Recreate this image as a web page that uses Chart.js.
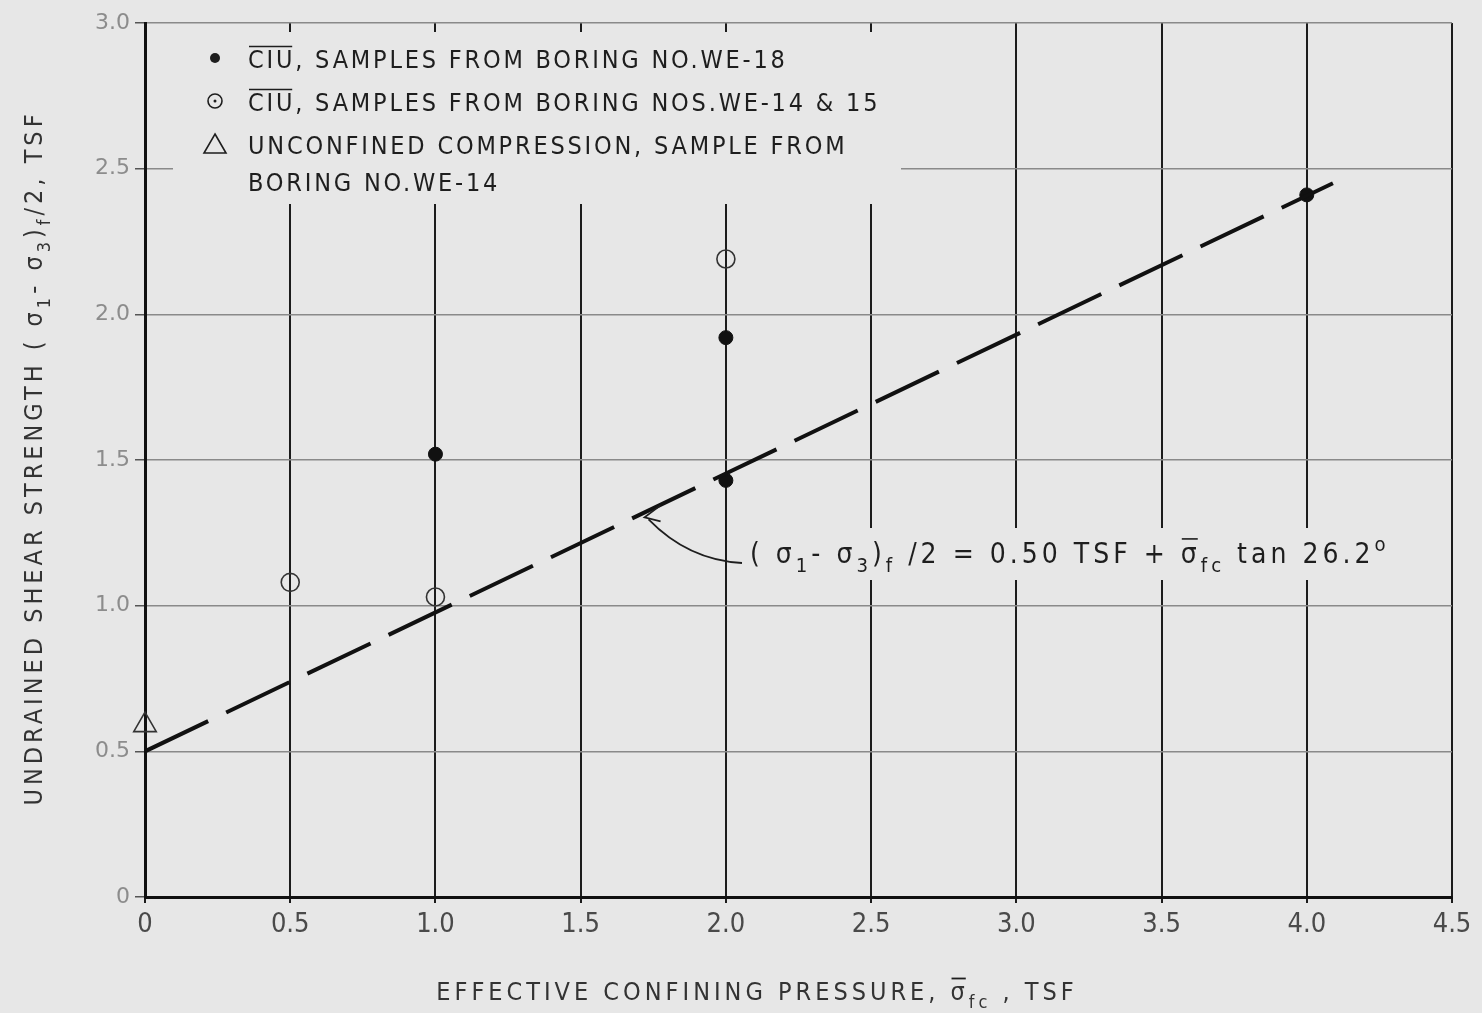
<!DOCTYPE html>
<html>
<head>
<meta charset="utf-8">
<script src="https://cdn.jsdelivr.net/npm/chart.js@4.4.1/dist/chart.umd.min.js"></script>
<style>
  html, body { margin: 0; padding: 0; background: #e7e7e7; }
  #wrap { width: 1482px; height: 1013px; }
</style>
</head>
<body>
<div id="wrap"><canvas id="shearChart"></canvas></div>
<script>
// Test results (TSF)
var xFilled = [1.0, 2.0, 2.0, 4.0];     // CIU, boring WE-18
var yFilled = [1.52, 1.92, 1.43, 2.41];
var xOpen = [0.5, 1.0, 2.0];            // CIU, borings WE-14 & 15
var yOpen = [1.08, 1.03, 2.19];
var xTri = [0];                         // unconfined compression
var yTri = [0.59];
var xFit = [0, 4.09];                   // strength envelope
var yFit = [0.5, 2.45];

var xTickLabels = ['0', '0.5', '1.0', '1.5', '2.0', '2.5', '3.0', '3.5', '4.0', '4.5'];
var yTickLabels = ['0', '0.5', '1.0', '1.5', '2.0', '2.5', '3.0'];

var NARROW = '"Liberation Sans Narrow", "DejaVu Sans Condensed", sans-serif';
var BG = '#e7e7e7';

function toPoints(xs, ys) {
  return xs.map(function (x, i) { return { x: x, y: ys[i] }; });
}

// Draw text made of pieces (plain, subscript, superscript, overlined)
function richWidth(ctx, parts, size) {
  var w = 0;
  parts.forEach(function (p) {
    var s = (p.sub || p.sup) ? size * 0.72 : size;
    ctx.font = s + 'px ' + NARROW;
    w += ctx.measureText(p.t).width;
  });
  return w;
}
function drawRich(ctx, parts, x, y, size) {
  parts.forEach(function (p) {
    var s = (p.sub || p.sup) ? size * 0.72 : size;
    ctx.font = s + 'px ' + NARROW;
    var dy = p.sub ? size * 0.32 : (p.sup ? -size * 0.42 : 0);
    ctx.fillText(p.t, x, y + dy);
    var w = ctx.measureText(p.t).width;
    if (p.over) {
      ctx.beginPath();
      ctx.moveTo(x + 1, y + dy - s * 0.86);
      ctx.lineTo(x + w - 3, y + dy - s * 0.86);
      ctx.stroke();
    }
    x += w;
  });
}

var legendRows = [
  { mark: 'dot', parts: [{ t: 'CIU', over: true }, { t: ', SAMPLES FROM BORING NO.WE-18' }] },
  { mark: 'ring', parts: [{ t: 'CIU', over: true }, { t: ', SAMPLES FROM BORING NOS.WE-14 & 15' }] },
  { mark: 'tri', parts: [{ t: 'UNCONFINED COMPRESSION, SAMPLE FROM' }] },
  { mark: null, parts: [{ t: 'BORING NO.WE-14' }] }
];

var eqParts = [
  { t: '( ' }, { t: 'σ' }, { t: '1', sub: true }, { t: '- ' }, { t: 'σ' }, { t: '3', sub: true },
  { t: ')' }, { t: 'f', sub: true }, { t: ' /2 = 0.50 TSF + ' }, { t: 'σ', over: true },
  { t: 'fc', sub: true }, { t: ' tan 26.2' }, { t: 'o', sup: true }
];
var yTitleParts = [
  { t: 'UNDRAINED SHEAR STRENGTH ( ' }, { t: 'σ' }, { t: '1', sub: true }, { t: '- ' },
  { t: 'σ' }, { t: '3', sub: true }, { t: ')' }, { t: 'f', sub: true }, { t: '/2, TSF' }
];
var xTitleParts = [
  { t: 'EFFECTIVE CONFINING PRESSURE, ' }, { t: 'σ', over: true }, { t: 'fc', sub: true }, { t: ' , TSF' }
];

// Legend, equation note, axis titles
var annotations = {
  id: 'annotations',
  beforeDatasetsDraw: function (chart) {
    var ctx = chart.ctx;
    ctx.save();
    ctx.fillStyle = BG;
    ctx.fillRect(173, 32, 728, 172);   // legend block hides the grid
    ctx.fillRect(742, 528, 660, 52);   // equation block
    ctx.restore();
  },
  afterDatasetsDraw: function (chart) {
    var ctx = chart.ctx;
    var xs = chart.scales.x, ys = chart.scales.y;
    ctx.save();
    ctx.fillStyle = '#1e1e1e';
    ctx.strokeStyle = '#1e1e1e';
    ctx.lineWidth = 1.6;
    ctx.textBaseline = 'alphabetic';
    ctx.letterSpacing = '2.8px';

    // legend
    legendRows.forEach(function (row, i) {
      var y = 58 + i * 43;
      if (i == 3) y = 181;
      if (row.mark == 'dot') {
        ctx.beginPath(); ctx.arc(215, y, 5, 0, Math.PI * 2); ctx.fill();
      } else if (row.mark == 'ring') {
        ctx.beginPath(); ctx.arc(215, y, 7, 0, Math.PI * 2); ctx.stroke();
        ctx.beginPath(); ctx.arc(215, y, 1.5, 0, Math.PI * 2); ctx.fill();
      } else if (row.mark == 'tri') {
        ctx.beginPath(); ctx.moveTo(215, y - 10); ctx.lineTo(226, y + 9); ctx.lineTo(204, y + 9); ctx.closePath(); ctx.stroke();
      }
      drawRich(ctx, row.parts, 248, y + 10, 25);
    });

    // equation and its leader
    ctx.letterSpacing = '4px';
    drawRich(ctx, eqParts, 750, 563, 28);
    var tipX = xs.getPixelForValue(1.72), tipY = ys.getPixelForValue(1.31);
    ctx.lineWidth = 1.8;
    ctx.beginPath();
    ctx.moveTo(742, 563);
    ctx.quadraticCurveTo(688, 560, tipX + 4, tipY + 4);
    ctx.stroke();
    ctx.beginPath();
    ctx.moveTo(tipX + 16, tipY - 10);
    ctx.lineTo(tipX, tipY + 2);
    ctx.lineTo(tipX + 16, tipY + 6);
    ctx.stroke();

    // axis titles
    ctx.fillStyle = '#333';
    ctx.letterSpacing = '4px';
    var wx = richWidth(ctx, xTitleParts, 25);
    drawRich(ctx, xTitleParts, 757 - wx / 2, 1000, 25);
    var wy = richWidth(ctx, yTitleParts, 25);
    ctx.translate(42, 458);
    ctx.rotate(-Math.PI / 2);
    drawRich(ctx, yTitleParts, -wy / 2, 0, 25);
    ctx.restore();
  }
};

document.addEventListener('DOMContentLoaded', function () {
  var ctx = document.getElementById('shearChart');

  new Chart(ctx, {
    type: 'scatter',
    data: {
      datasets: [
        {
          label: 'Envelope',
          type: 'line',
          data: toPoints(xFit, yFit),
          borderColor: '#111',
          borderWidth: 4,
          borderDash: [70, 20],
          pointRadius: 0,
          fill: false
        },
        {
          label: 'CIU WE-18',
          data: toPoints(xFilled, yFilled),
          pointStyle: 'circle',
          pointRadius: 7,
          backgroundColor: '#111',
          borderColor: '#111'
        },
        {
          label: 'CIU WE-14 & 15',
          data: toPoints(xOpen, yOpen),
          pointStyle: 'circle',
          pointRadius: 9,
          borderWidth: 1.6,
          backgroundColor: 'rgba(0,0,0,0)',
          borderColor: '#333'
        },
        {
          label: 'Unconfined',
          data: toPoints(xTri, yTri),
          pointStyle: 'triangle',
          pointRadius: 13,
          borderWidth: 1.6,
          backgroundColor: 'rgba(0,0,0,0)',
          borderColor: '#333',
          clip: false
        }
      ]
    },
    options: {
      responsive: true,
      maintainAspectRatio: false,
      animation: false,
      layout: { padding: { left: 0, right: 30, top: 23, bottom: 0 } },
      plugins: {
        legend: { display: false },
        tooltip: { enabled: false }
      },
      scales: {
        x: {
          type: 'linear',
          min: 0,
          max: 4.5,
          afterFit: function (scale) { scale.height = 116; },
          afterBuildTicks: function (scale) {
            scale.ticks = xTickLabels.map(function (t) { return { value: parseFloat(t) }; });
          },
          ticks: {
            padding: 6,
            color: '#4a4a4a',
            font: { family: NARROW, size: 27 },
            maxRotation: 0,
            callback: function (value, index) { return xTickLabels[index]; }
          },
          grid: { color: '#1c1c1c', lineWidth: 2, tickLength: 6 },
          border: { color: '#111', width: 3 }
        },
        y: {
          type: 'linear',
          min: 0,
          max: 3,
          afterFit: function (scale) { scale.width = 145; },
          afterBuildTicks: function (scale) {
            scale.ticks = yTickLabels.map(function (t) { return { value: parseFloat(t) }; });
          },
          ticks: {
            padding: 5,
            color: '#8c8c8c',
            font: { family: '"DejaVu Sans", sans-serif', size: 22 },
            callback: function (value, index) { return yTickLabels[index]; }
          },
          grid: {
            color: '#8a8a8a',
            lineWidth: 1.5,
            tickLength: 10,
            tickColor: '#555'
          },
          border: { color: '#111', width: 3 }
        }
      }
    },
    plugins: [annotations]
  });
});
</script>
</body>
</html>
